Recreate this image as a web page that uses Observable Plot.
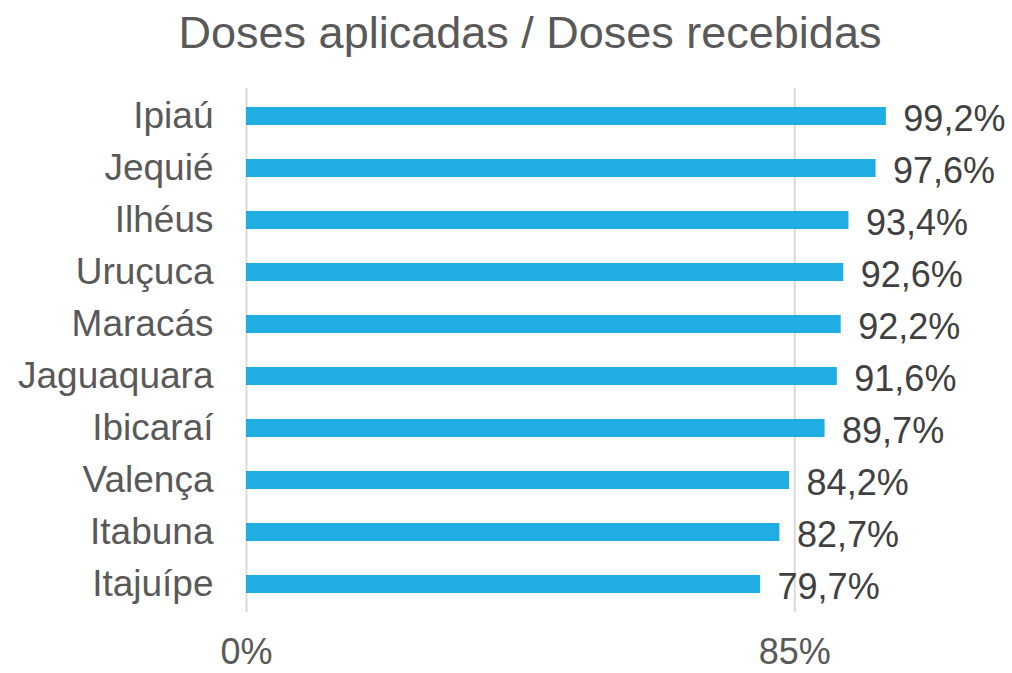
<!DOCTYPE html>
<html>
<head>
<meta charset="utf-8">
<script src="https://cdn.jsdelivr.net/npm/d3@7"></script>
<script src="https://cdn.jsdelivr.net/npm/@observablehq/plot@0.6"></script>
<style>
  html, body { margin: 0; padding: 0; background: #fff; }
  #wrap { position: relative; width: 1012px; height: 673px; font-family: "Liberation Sans", Arial, sans-serif; }
  #title { position: absolute; left: 0; top: 10px; width: 1060px; text-align: center; font-size: 45px; line-height: 1; color: #595959; }
  #chart { position: absolute; left: 0; top: 0; }
</style>
</head>
<body>
<div id="wrap">
  <div id="chart"></div>
  <div id="title">Doses aplicadas / Doses recebidas</div>
</div>
<script>
const cities = ["Ipiaú", "Jequié", "Ilhéus", "Uruçuca", "Maracás", "Jaguaquara", "Ibicaraí", "Valença", "Itabuna", "Itajuípe"];
const ratios = [0.992, 0.976, 0.934, 0.926, 0.922, 0.916, 0.897, 0.842, 0.827, 0.797];
const xTicks = [0, 0.85];

const data = cities.map((c, i) => ({city: c, value: ratios[i]}));
const pct1 = v => d3.format(".1%")(v).replace(".", ",");

const chart = Plot.plot({
  width: 1012,
  height: 673,
  marginLeft: 246,
  marginRight: 121,
  marginTop: 88,
  marginBottom: 61,
  style: {fontFamily: "'Liberation Sans', Arial, sans-serif", background: "transparent", overflow: "visible"},
  x: {domain: [0, 1]},
  y: {domain: cities, paddingInner: 0.66, paddingOuter: 0.33},
  marks: [
    Plot.ruleX(xTicks, {stroke: "#D9D9D9", strokeWidth: 2}),
    Plot.barX(data, {x: "value", y: "city", fill: "#1FADE4"}),
    Plot.text(data, {x: "value", y: "city", text: d => pct1(d.value), textAnchor: "start", dx: 17, dy: 3, fontSize: 36, fill: "#404040"}),
    Plot.axisY({tickSize: 0, tickPadding: 33, fontSize: 37, color: "#595959", label: null}),
    Plot.axisX({ticks: xTicks, tickFormat: d3.format(".0%"), tickSize: 0, tickPadding: 26, fontSize: 36, color: "#595959", label: null})
  ]
});
document.getElementById("chart").appendChild(chart);
</script>
</body>
</html>
